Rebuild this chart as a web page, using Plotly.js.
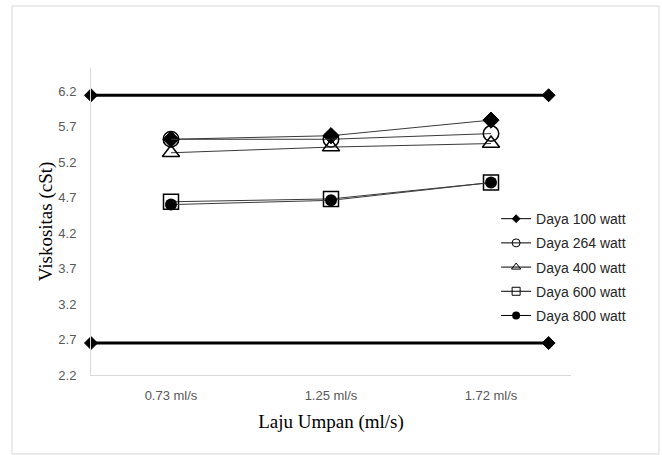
<!DOCTYPE html>
<html><head><meta charset="utf-8">
<script src="https://cdn.plot.ly/plotly-3.0.1.min.js"></script>
<style>html,body{margin:0;padding:0;background:#fff}#chart{width:662px;height:455px}</style>
</head><body><div id="chart"></div>
<script>
// ---- data ----
const categories = ['0.73 ml/s', '1.25 ml/s', '1.72 ml/s'];
const seriesNames = ['Daya 100 watt', 'Daya 264 watt', 'Daya 400 watt', 'Daya 600 watt', 'Daya 800 watt'];
const daya100 = [5.52, 5.57, 5.79];
const daya264 = [5.52, 5.52, 5.60];
const daya400 = [5.33, 5.41, 5.46];
const daya600 = [4.64, 4.68, 4.91];
const daya800 = [4.60, 4.66, 4.91];
const upperLimitX = [-0.5, 2.36];
const upperLimitY = [6.14, 6.14];
const lowerLimitX = [-0.5, 2.36];
const lowerLimitY = [2.65, 2.65];
const yTicks = [2.2, 2.7, 3.2, 3.7, 4.2, 4.7, 5.2, 5.7, 6.2];
const xTitle = 'Laju Umpan (ml/s)';
const yTitle = 'Viskositas (cSt)';

// ---- styles ----
const catX = categories.map((c, i) => i);
const seriesValues = [daya100, daya264, daya400, daya600, daya800];
const plotMarkers = [
  {symbol: 'diamond', size: 12.5, color: '#000', line: {color: '#000', width: 1}},
  {symbol: 'circle-open', size: 15.5, color: '#000', line: {color: '#000', width: 1.5}},
  {symbol: 'triangle-up-open', size: 15, color: '#000', line: {color: '#000', width: 1.5}},
  {symbol: 'square-open', size: 15, color: '#000', line: {color: '#000', width: 1.5}},
  {symbol: 'circle', size: 12, color: '#000', line: {color: '#000', width: 0}}
];
const legendMarkers = [
  {symbol: 'diamond', size: 6, color: '#000', line: {color: '#000', width: 1}},
  {symbol: 'circle-open', size: 8, color: '#000', line: {color: '#000', width: 1}},
  {symbol: 'triangle-up-open', size: 8, color: '#000', line: {color: '#000', width: 1}},
  {symbol: 'square-open', size: 8, color: '#000', line: {color: '#000', width: 1}},
  {symbol: 'circle', size: 8, color: '#000', line: {color: '#000', width: 0}}
];

const traces = [];
// limit lines
[[upperLimitX, upperLimitY], [lowerLimitX, lowerLimitY]].forEach(([lx, ly]) => {
  traces.push({
    type: 'scatter', mode: 'lines+markers', x: lx, y: ly, showlegend: false,
    cliponaxis: false, hoverinfo: 'skip',
    line: {color: '#000', width: 3},
    marker: {symbol: 'diamond', size: 10, color: '#000', line: {color: '#000', width: 1}}
  });
});
// series
seriesValues.forEach((vals, i) => {
  traces.push({
    type: 'scatter', mode: 'lines+markers', x: catX, y: vals, name: seriesNames[i],
    showlegend: false, cliponaxis: false,
    line: {color: '#3a3a3a', width: 1},
    marker: plotMarkers[i]
  });
});
// legend entries (small symbols as in the reference)
seriesNames.forEach((n, i) => {
  traces.push({
    type: 'scatter', mode: 'lines+markers', x: [null], y: [null], name: n,
    legendgroup: 'g' + i, showlegend: true,
    line: {color: '#000', width: 1},
    marker: legendMarkers[i]
  });
});

const tickFont = {family: 'Liberation Sans, Arial, sans-serif', size: 13, color: '#595959'};
const titleFont = {family: 'Liberation Serif, Times New Roman, serif', size: 19, color: '#000'};

const layout = {
  width: 662, height: 455,
  margin: {l: 91, r: 91, t: 68, b: 80, pad: 0},
  paper_bgcolor: '#fff', plot_bgcolor: '#fff',
  showlegend: true,
  legend: {
    x: 0.844, xanchor: 'left', y: 0.56, yanchor: 'top',
    font: {family: 'Liberation Sans, Arial, sans-serif', size: 14, color: '#262626'},
    bgcolor: 'rgba(0,0,0,0)', borderwidth: 0,
    traceorder: 'grouped', tracegroupgap: 3
  },
  xaxis: {
    range: [-0.5, 2.5], tickvals: catX, ticktext: categories,
    showgrid: false, zeroline: false, showline: true, linecolor: '#d9d9d9', linewidth: 1,
    ticks: '', tickfont: tickFont, ticklabelstandoff: 8,
    title: {text: xTitle, font: titleFont, standoff: 13}
  },
  yaxis: {
    range: [2.2, 6.524], tickvals: yTicks, tickformat: '.1f',
    showgrid: false, zeroline: false, showline: true, linecolor: '#d9d9d9', linewidth: 1,
    ticks: '', tickfont: tickFont, ticklabelstandoff: 11,
    title: {text: yTitle, font: titleFont, standoff: 0}
  },
  shapes: [{
    type: 'rect', xref: 'paper', yref: 'paper',
    x0: -0.1646, x1: 1.1833, y0: -0.2573, y1: 1.202,
    line: {color: '#d9d9d9', width: 1}, fillcolor: 'rgba(0,0,0,0)', layer: 'below'
  }]
};

Plotly.newPlot('chart', traces, layout, {displayModeBar: false, staticPlot: true});
</script>
</body></html>
